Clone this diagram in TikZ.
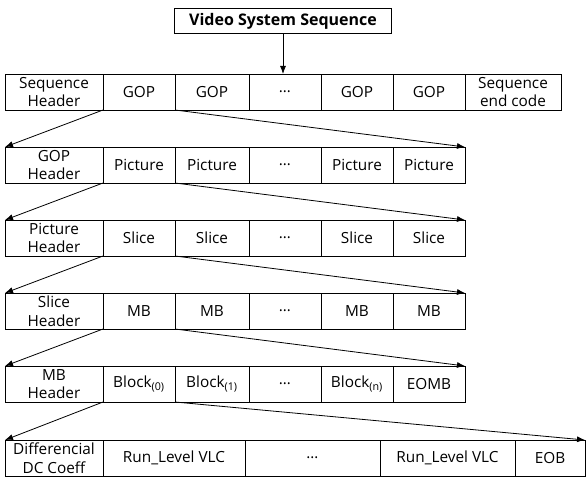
\documentclass[tikz,border=0pt]{standalone}
\usepackage{fontspec}
\setsansfont{Open Sans}
\tikzset{every picture/.style={/utils/exec={\sffamily}}}
\usetikzlibrary{arrows.meta}

\tikzset{
  cell/.style={draw, line width=0.6pt, inner sep=0pt, outer sep=0pt,
    minimum height=27pt, align=center,
    font=\fontsize{11.5}{14}\selectfont},
  link/.style={->, >={Latex[length=6pt, width=4.5pt]}, line width=0.6pt},
}

\begin{document}
\begin{tikzpicture}[x=0.75pt, y=-0.75pt]
  \useasboundingbox (0,0) rectangle (586,477);

  \node [draw, line width=0.6pt, minimum width=163pt, minimum height=19pt, inner sep=0pt,
    font=\fontsize{12}{14}\selectfont\bfseries] (vss) at (283,21) {Video System Sequence};

  % sequence layer
  \foreach \l/\r/\t [count=\i] in {5/103/{Sequence\\Header}, 103/175/GOP, 175/249/GOP,
      249/321/{\dots}, 321/393/GOP, 393/465/GOP, 465/561/{Sequence\\end code}}
    \node [cell, minimum width={(\r-\l)*0.75pt}] (seq\i) at ({(\l+\r)/2}, 92) {\t};

  % gop layer
  \foreach \l/\r/\t [count=\i] in {5/103/{GOP\\Header}, 103/175/Picture, 175/249/Picture,
      249/321/{\dots}, 321/393/Picture, 393/465/Picture}
    \node [cell, minimum width={(\r-\l)*0.75pt}] (gop\i) at ({(\l+\r)/2}, 165) {\t};

  % picture layer
  \foreach \l/\r/\t [count=\i] in {5/103/{Picture\\Header}, 103/175/Slice, 175/249/Slice,
      249/321/{\dots}, 321/393/Slice, 393/465/Slice}
    \node [cell, minimum width={(\r-\l)*0.75pt}] (pic\i) at ({(\l+\r)/2}, 238) {\t};

  % slice layer
  \foreach \l/\r/\t [count=\i] in {5/103/{Slice\\Header}, 103/175/MB, 175/249/MB,
      249/321/{\dots}, 321/393/MB, 393/465/MB}
    \node [cell, minimum width={(\r-\l)*0.75pt}] (slc\i) at ({(\l+\r)/2}, 311) {\t};

  % macroblock layer
  \foreach \l/\r/\t [count=\i] in {5/103/{MB\\Header}, 103/175/Block\textsubscript{(0)},
      175/249/Block\textsubscript{(1)}, 249/321/{\dots}, 321/393/Block\textsubscript{(n)}, 393/465/EOMB}
    \node [cell, minimum width={(\r-\l)*0.75pt}] (mb\i) at ({(\l+\r)/2}, 384) {\t};

  % block layer
  \foreach \l/\r/\t [count=\i] in {5/103/{Differencial\\DC Coeff}, 103/245/Run\_Level VLC,
      245/380/{\dots}, 380/515/Run\_Level VLC, 515/585/EOB}
    \node [cell, minimum width={(\r-\l)*0.75pt}] (blk\i) at ({(\l+\r)/2}, 458) {\t};

  \draw [link] (vss.south) -- (vss.south |- seq4.north);

  \draw [link] (seq1.south east) -- (gop1.north west);
  \draw [link] (seq2.south east) -- (gop6.north east);

  \draw [link] (gop1.south east) -- (pic1.north west);
  \draw [link] (gop2.south east) -- (pic6.north east);

  \draw [link] (pic1.south east) -- (slc1.north west);
  \draw [link] (pic2.south east) -- (slc6.north east);

  \draw [link] (slc1.south east) -- (mb1.north west);
  \draw [link] (slc2.south east) -- (mb6.north east);

  \draw [link] (mb1.south east) -- (blk1.north west);
  \draw [link] (mb2.south east) -- (blk5.north east);
\end{tikzpicture}
\end{document}
